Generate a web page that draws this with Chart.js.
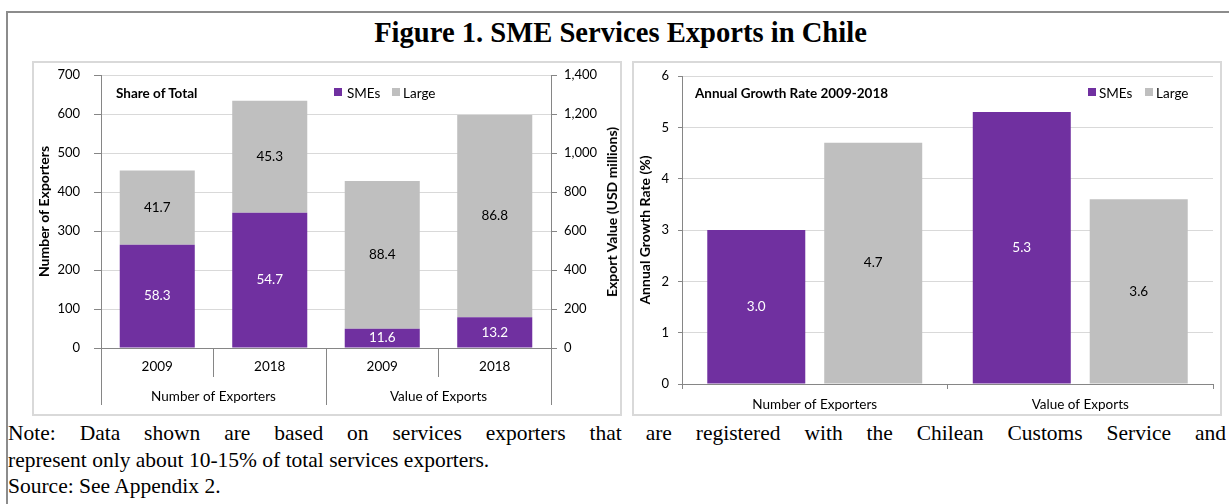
<!DOCTYPE html>
<html><head><meta charset="utf-8">
<script src="https://cdn.jsdelivr.net/npm/chart.js@4.4.1/dist/chart.umd.min.js"></script>
<style>
html,body{margin:0;padding:0;background:#fff;}
body{width:1229px;height:504px;position:relative;overflow:hidden;font-family:Lato,sans-serif;color:#000;}
#frame{position:absolute;left:6px;top:11px;width:1240px;height:520px;border:2px solid #8c8c8c;box-sizing:border-box;}
#title{position:absolute;left:0;width:1241px;top:17px;line-height:32px;text-align:center;font-weight:bold;font-size:28.6px;font-family:'Liberation Serif',serif;white-space:nowrap;}
.box{position:absolute;top:61px;width:590px;height:355px;border:2px solid #d9d9d9;box-sizing:border-box;background:#fff;}
#box1{left:32px}
#box2{left:632px}
.box canvas{position:absolute;left:0;top:0;}
.ov{position:absolute;white-space:nowrap;font-size:13.5px;line-height:16px;}
.b{font-weight:bold;}
.sq{position:absolute;width:8px;height:8px;}
#note{position:absolute;left:8px;top:420px;width:1218px;font-family:'Liberation Serif',serif;font-size:21.5px;line-height:26.7px;}
#note .j{text-align:justify;text-align-last:justify;}
</style></head>
<body>
<div id="frame"></div>
<div id="title">Figure 1. SME Services Exports in Chile</div>
<div class="box" id="box1"><canvas id="c1" width="586" height="351"></canvas></div>
<div class="box" id="box2"><canvas id="c2" width="586" height="351"></canvas></div>

<div class="ov b" style="left:116px;top:84.5px;">Share of Total</div>
<div class="sq" style="left:334px;top:88px;background:#7030A0"></div>
<div class="ov" style="left:347px;top:84.5px;">SMEs</div>
<div class="sq" style="left:392px;top:88px;background:#BFBFBF"></div>
<div class="ov" style="left:403px;top:84.5px;">Large</div>
<div class="ov b" style="left:612px;top:211.5px;font-size:14px;transform:translate(-50%,-50%) rotate(-90deg);">Export Value (USD millions)</div>

<div class="ov b" style="left:695px;top:84.5px;">Annual Growth Rate 2009-2018</div>
<div class="sq" style="left:1088px;top:88px;background:#7030A0"></div>
<div class="ov" style="left:1099px;top:84.5px;">SMEs</div>
<div class="sq" style="left:1145px;top:88px;background:#BFBFBF"></div>
<div class="ov" style="left:1156px;top:84.5px;">Large</div>

<div id="note">
<div class="j">Note: Data shown are based on services exporters that are registered with the Chilean Customs Service and</div>
<div>represent only about 10-15% of total services exporters.</div>
<div>Source: See Appendix 2.</div>
</div>

<script>
// ---- data ----
const years = ['2009', '2018', '2009', '2018'];
const groups = ['Number of Exporters', 'Value of Exports'];
const smeCount = [265, 347, null, null];     // number of exporters
const largeCount = [190, 287, null, null];
const smeValue = [null, null, 99, 158];      // USD millions
const largeValue = [null, null, 757, 1037];
const smeShare = [58.3, 54.7, 11.6, 13.2];   // % of total
const largeShare = [41.7, 45.3, 88.4, 86.8];
const growthCats = ['Number of Exporters', 'Value of Exports'];
const smeGrowth = [3.0, 5.3];
const largeGrowth = [4.7, 3.6];

const PURPLE = '#7030A0', GRAY = '#BFBFBF';
const GRID = '#D9D9D9', AXIS = '#868686';
const FONT = 'Lato';

const barLabels = {
  id: 'barLabels',
  afterDatasetsDraw(chart) {
    const ctx = chart.ctx;
    chart.data.datasets.forEach((ds, i) => {
      if (!ds.labelTexts) return;
      const meta = chart.getDatasetMeta(i);
      meta.data.forEach((bar, j) => {
        const t = ds.labelTexts[j];
        if (t == null || ds.data[j] == null) return;
        const p = bar.getProps(['x', 'y', 'base'], true);
        ctx.save();
        ctx.font = '13.5px ' + FONT;
        ctx.fillStyle = ds.labelColor;
        ctx.textAlign = 'center';
        ctx.textBaseline = 'middle';
        ctx.fillText(t, p.x, (p.y + p.base) / 2);
        ctx.restore();
      });
    });
  }
};

function fmt(a) { return a.map(v => v == null ? null : v.toFixed(1)); }
function fixV(w) { return s => { s.width = w; s.paddingTop = 0; s.paddingBottom = 0; }; }

function draw() {
  Chart.defaults.font.family = FONT;
  Chart.defaults.font.size = 13;
  Chart.defaults.color = '#000';

  new Chart(document.getElementById('c1'), {
    type: 'bar',
    data: {
      labels: years,
      datasets: [
        { label: 'SMEs', data: smeCount, yAxisID: 'y', backgroundColor: PURPLE, labelTexts: fmt(smeShare), labelColor: '#fff' },
        { label: 'Large', data: largeCount, yAxisID: 'y', backgroundColor: GRAY, labelTexts: fmt(largeShare), labelColor: '#000' },
        { label: 'SMEs ', data: smeValue, yAxisID: 'y2', backgroundColor: PURPLE, labelTexts: fmt(smeShare), labelColor: '#fff' },
        { label: 'Large ', data: largeValue, yAxisID: 'y2', backgroundColor: GRAY, labelTexts: fmt(largeShare), labelColor: '#000' }
      ]
    },
    options: {
      responsive: false, animation: false, devicePixelRatio: 1,
      barPercentage: 0.667, categoryPercentage: 1,
      layout: { padding: { top: 12, bottom: 9, left: 0, right: 0 } },
      plugins: { legend: { display: false }, tooltip: { enabled: false } },
      scales: {
        x: {
          stacked: true, offset: true, weight: 0,
          grid: { offset: true, drawOnChartArea: false, tickLength: 29, color: AXIS },
          border: { color: AXIS },
          ticks: { padding: -18, maxRotation: 0, autoSkip: false, font: { size: 13.5 } },
          afterFit(s) { s.height = 29; }
        },
        x2: {
          type: 'category', labels: groups, position: 'bottom', offset: true, weight: 1,
          grid: { offset: true, drawOnChartArea: false, tickLength: 28, color: AXIS },
          border: { display: false },
          ticks: { padding: -16, maxRotation: 0, autoSkip: false, font: { size: 13.5 } },
          afterFit(s) { s.height = 28; }
        },
        y: {
          stacked: true, position: 'left', min: 0, max: 700,
          ticks: { stepSize: 100, padding: 14 },
          grid: { color: GRID, tickColor: AXIS, tickLength: 7 },
          border: { color: AXIS },
          title: { display: true, text: 'Number of Exporters', font: { weight: 'bold', size: 14 }, padding: { top: 2, bottom: 0 } },
          afterFit: fixV(67)
        },
        y2: {
          stacked: true, position: 'right', min: 0, max: 1400,
          ticks: { stepSize: 200, padding: 7, callback: v => v.toLocaleString('en-US') },
          grid: { drawOnChartArea: false, tickColor: AXIS, tickLength: 6 },
          border: { color: AXIS },
          afterFit: fixV(69)
        }
      }
    },
    plugins: [barLabels]
  });

  new Chart(document.getElementById('c2'), {
    type: 'bar',
    data: {
      labels: growthCats,
      datasets: [
        { label: 'SMEs', data: smeGrowth, backgroundColor: PURPLE, labelTexts: fmt(smeGrowth), labelColor: '#fff' },
        { label: 'Large', data: largeGrowth, backgroundColor: GRAY, labelTexts: fmt(largeGrowth), labelColor: '#000' }
      ]
    },
    options: {
      responsive: false, animation: false, devicePixelRatio: 1,
      barPercentage: 0.838, categoryPercentage: 0.881,
      layout: { padding: { top: 13, bottom: 0, left: 0, right: 7 } },
      plugins: { legend: { display: false }, tooltip: { enabled: false } },
      scales: {
        x: {
          offset: true,
          grid: { offset: true, drawOnChartArea: false, tickLength: 5, color: AXIS },
          border: { color: AXIS },
          ticks: { padding: 8, maxRotation: 0, autoSkip: false, font: { size: 13.5 } },
          afterFit(s) { s.height = 30; }
        },
        y: {
          min: 0, max: 6,
          ticks: { stepSize: 1, padding: 9 },
          grid: { color: GRID, tickColor: AXIS, tickLength: 4 },
          border: { color: AXIS },
          title: { display: true, text: 'Annual Growth Rate (%)', font: { weight: 'bold', size: 14 }, padding: { top: 3, bottom: 0 } },
          afterFit: fixV(48)
        }
      }
    },
    plugins: [barLabels]
  });
}

Promise.all([
  document.fonts.load('13px Lato'),
  document.fonts.load('bold 13px Lato')
]).then(draw, draw);
</script>
</body></html>
